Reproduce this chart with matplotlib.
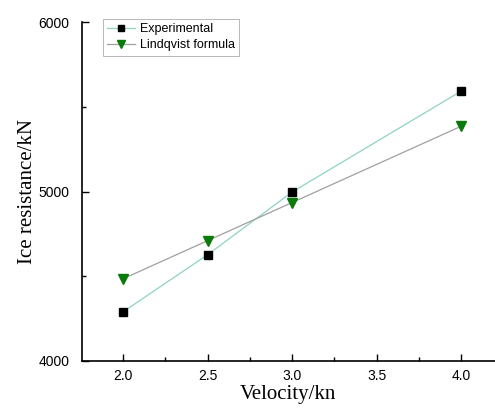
import matplotlib
matplotlib.use("Agg")
import matplotlib.pyplot as plt
from matplotlib.ticker import MultipleLocator

velocity = [2.0, 2.5, 3.0, 4.0]
experimental = [4290, 4627, 4997, 5592]
lindqvist = [4485, 4710, 4935, 5385]

fig = plt.figure(figsize=(4.95, 4.09), dpi=100)
ax = fig.add_axes([0.1657, 0.1174, 0.834, 0.8286])

ax.plot(velocity, experimental, color="#8fd3c3", lw=0.9, marker="s", ms=6,
        mfc="black", mec="black", label="Experimental", zorder=3)
ax.plot(velocity, lindqvist, color="#a0a0a0", lw=0.9, marker="v", ms=7.5,
        mfc="#0a7a0a", mec="#0a7a0a", label="Lindqvist formula", zorder=3)

ax.set_xlim(1.757, 4.2)
ax.set_ylim(4000, 6000)
ax.xaxis.set_major_locator(MultipleLocator(0.5))
ax.xaxis.set_minor_locator(MultipleLocator(0.25))
ax.yaxis.set_major_locator(MultipleLocator(1000))
ax.yaxis.set_minor_locator(MultipleLocator(500))
ax.xaxis.set_major_formatter(matplotlib.ticker.FormatStrFormatter("%.1f"))
ax.tick_params(which="both", direction="in", width=1.0, labelsize=10)
ax.tick_params(axis="y", pad=9)
ax.tick_params(axis="x", pad=6)
ax.tick_params(which="major", length=5)
ax.tick_params(which="minor", length=3)
for lab in ax.get_xticklabels() + ax.get_yticklabels():
    lab.set_family("Liberation Sans")
ax.spines["top"].set_visible(False)
ax.spines["right"].set_visible(False)
ax.spines["left"].set_linewidth(1.2)
ax.spines["bottom"].set_linewidth(1.2)

ax.set_xlabel("Velocity/kn", family="Liberation Serif", fontsize=15, labelpad=1)
ax.set_ylabel("Ice resistance/kN", family="Liberation Serif", fontsize=15, labelpad=1)

leg = ax.legend(loc="upper left", bbox_to_anchor=(0.05, 1.01), prop={"family": "Liberation Sans", "size": 9},
                frameon=True, fancybox=False, edgecolor="#999999", borderpad=0.35,
                handlelength=2.2, handletextpad=0.4, labelspacing=0.35, borderaxespad=0.0,
                markerscale=0.75)
leg.get_frame().set_linewidth(0.6)

fig.savefig("out.png", dpi=100)
